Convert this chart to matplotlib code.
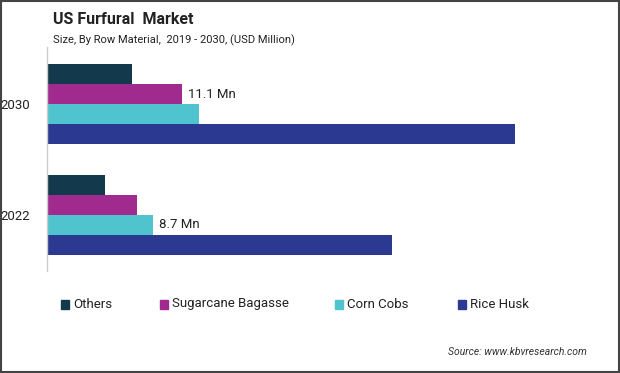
import matplotlib
matplotlib.use("Agg")
import matplotlib.pyplot as plt
from matplotlib.patches import Rectangle

plt.rcParams['font.family'] = ['Roboto', 'DejaVu Sans']

years = ["2022", "2030"]
series = ["Others", "Sugarcane Bagasse", "Corn Cobs", "Rice Husk"]
others = [4.8, 7.0]
sugarcane = [7.4, 11.1]
corn_cobs = [8.7, 12.5]
rice_husk = [28.4, 38.5]
colors = ["#133A4C", "#A12A8E", "#50C4CE", "#2B3990"]
labels_text = {("Sugarcane Bagasse", 1): "11.1 Mn", ("Corn Cobs", 0): "8.7 Mn"}

values = [others, sugarcane, corn_cobs, rice_husk]
offsets = [0.27, 0.09, -0.09, -0.27]
h = 0.18

W, H = 620, 373
fig = plt.figure(figsize=(W/100, H/100), dpi=100)
ax = fig.add_axes([47/W, 1-271/H, (600-47)/W, (271-47)/H])

for s, vals, off, c in zip(series, values, offsets, colors):
    for i, v in enumerate(vals):
        ax.barh(i + off, v, height=h, color=c, edgecolor='none')
        if (s, i) in labels_text:
            ax.text(v + 0.5, i + off, labels_text[(s, i)], va='center', ha='left',
                    fontsize=9.5, color='#222222')

ax.set_xlim(0, 45.5)
ax.set_ylim(-0.505, 1.514)
ax.set_yticks([0, 1])
ax.set_yticklabels(years, fontsize=9.5, color='#222222')
ax.tick_params(axis='y', length=0, pad=12)
ax.set_xticks([])
for sp in ['top', 'right', 'bottom']:
    ax.spines[sp].set_visible(False)
ax.spines['left'].set_color('#CCCCCC')
ax.spines['left'].set_linewidth(1)

fig.text(53/W, 1-20/H, "US Furfural  Market", fontsize=11.5, fontweight='bold',
         va='center', ha='left', color='#222222')
fig.text(53/W, 1-40/H, "Size, By Row Material,  2019 - 2030, (USD Million)", fontsize=8,
         va='center', ha='left', color='#222222')

leg_x = [61, 160, 335, 458]
ly = 304
for x, name, c in zip(leg_x, series, colors):
    fig.patches.append(Rectangle((x/W, 1-(ly+4.5)/H), 8/W, 9/H, transform=fig.transFigure,
                                 color=c, figure=fig))
    fig.text((x+12)/W, 1-ly/H, name, fontsize=9.5, va='center', ha='left', color='#222222')

fig.text(587/W, 1-352/H, "Source: www.kbvresearch.com", fontsize=7.5, style='italic',
         va='center', ha='right', color='#333333')

fig.patches.append(Rectangle((0.0015, 0.002), 0.997, 0.995, transform=fig.transFigure,
                             fill=False, edgecolor='#444444', linewidth=1.5, figure=fig))

fig.savefig("out.png", dpi=100)
